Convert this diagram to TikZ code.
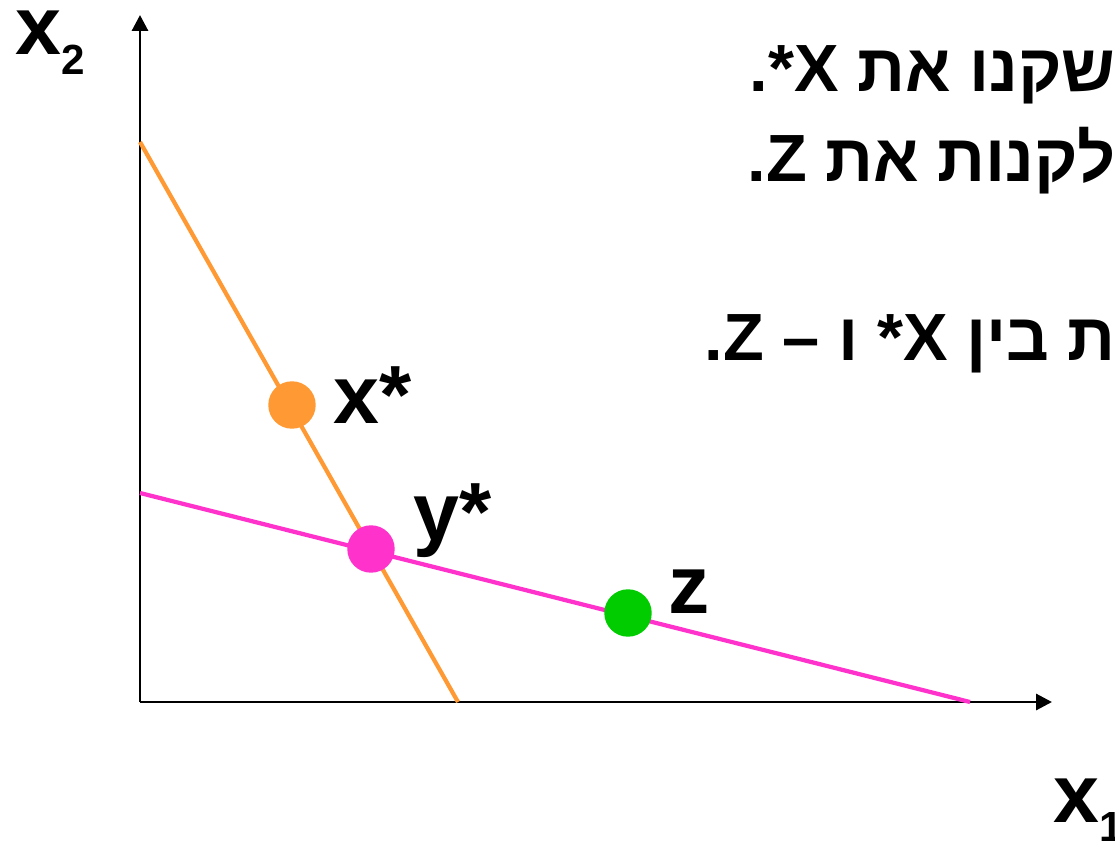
\documentclass[tikz,border=0pt]{standalone}
\usepackage{fontspec}
\setmainfont{Liberation Sans}
\newfontfamily\hebfont[Script=Hebrew]{Liberation Sans}
\usetikzlibrary{arrows.meta}
\TeXXeTstate=1
\definecolor{budgetorange}{RGB}{255,153,51}
\definecolor{budgetpink}{RGB}{255,51,204}
\definecolor{bundlegreen}{RGB}{0,204,0}

\begin{document}
\begin{tikzpicture}[
  x=0.02cm, y=-0.02cm,
  axisline/.style={line width=1.7pt, -{Triangle[length=9pt, width=9pt]}},
  budget/.style={line width=2.4pt},
  marker/.style={circle, inner sep=0pt, minimum size=27pt},
  lbl/.style={inner sep=0pt, anchor=base west,
    font=\fontsize{47}{50}\selectfont\bfseries},
  heb/.style={inner sep=0pt, anchor=base east,
    font=\fontsize{38}{42}\selectfont\bfseries\hebfont}
]
  \useasboundingbox (0,0) rectangle (1115,844);

  % axes
  \coordinate (O)  at (140,702);
  \coordinate (yt) at (140,15);
  \coordinate (xt) at (1052,702);
  \draw[axisline] (O) -- (yt);
  \draw[axisline] (O) -- (xt);

  % budget lines
  \coordinate (oa) at (140,142);
  \coordinate (ob) at (458,702);
  \coordinate (pa) at (140,493);
  \coordinate (pb) at (970,702);
  \draw[budget, budgetorange] (oa) -- (ob);
  \draw[budget, budgetpink] (pa) -- (pb);

  % bundles
  \node[marker, fill=budgetorange] (xs) at (292,405) {};
  \node[marker, fill=budgetpink]   (ys) at (371,549) {};
  \node[marker, fill=bundlegreen]  (zz) at (628,613) {};

  \node[lbl] (xslbl) at (333,423) {x*};
  \node[lbl] (yslbl) at (413,540) {y*};
  \node[lbl] (zzlbl) at (668,613) {z};

  \node[lbl] (x2lbl) at (15,55)
    {x\raisebox{-11.3pt}{\fontsize{24}{24}\selectfont 2}};
  \node[lbl] (x1lbl) at (1053,822)
    {x\raisebox{-11.3pt}{\fontsize{24}{24}\selectfont 1}};

  % text
  \node[heb] (line1) at (1116,92)  {\beginR שקנו את \beginL.*X\endL\endR};
  \node[heb] (line2) at (1116,182) {\beginR לקנות את \beginL.Z\endL\endR};
  \node[heb] (line3) at (1116,360) {\beginR ת בין \beginL*X\endL{} ו – \beginL.Z\endL\endR};
\end{tikzpicture}
\end{document}
